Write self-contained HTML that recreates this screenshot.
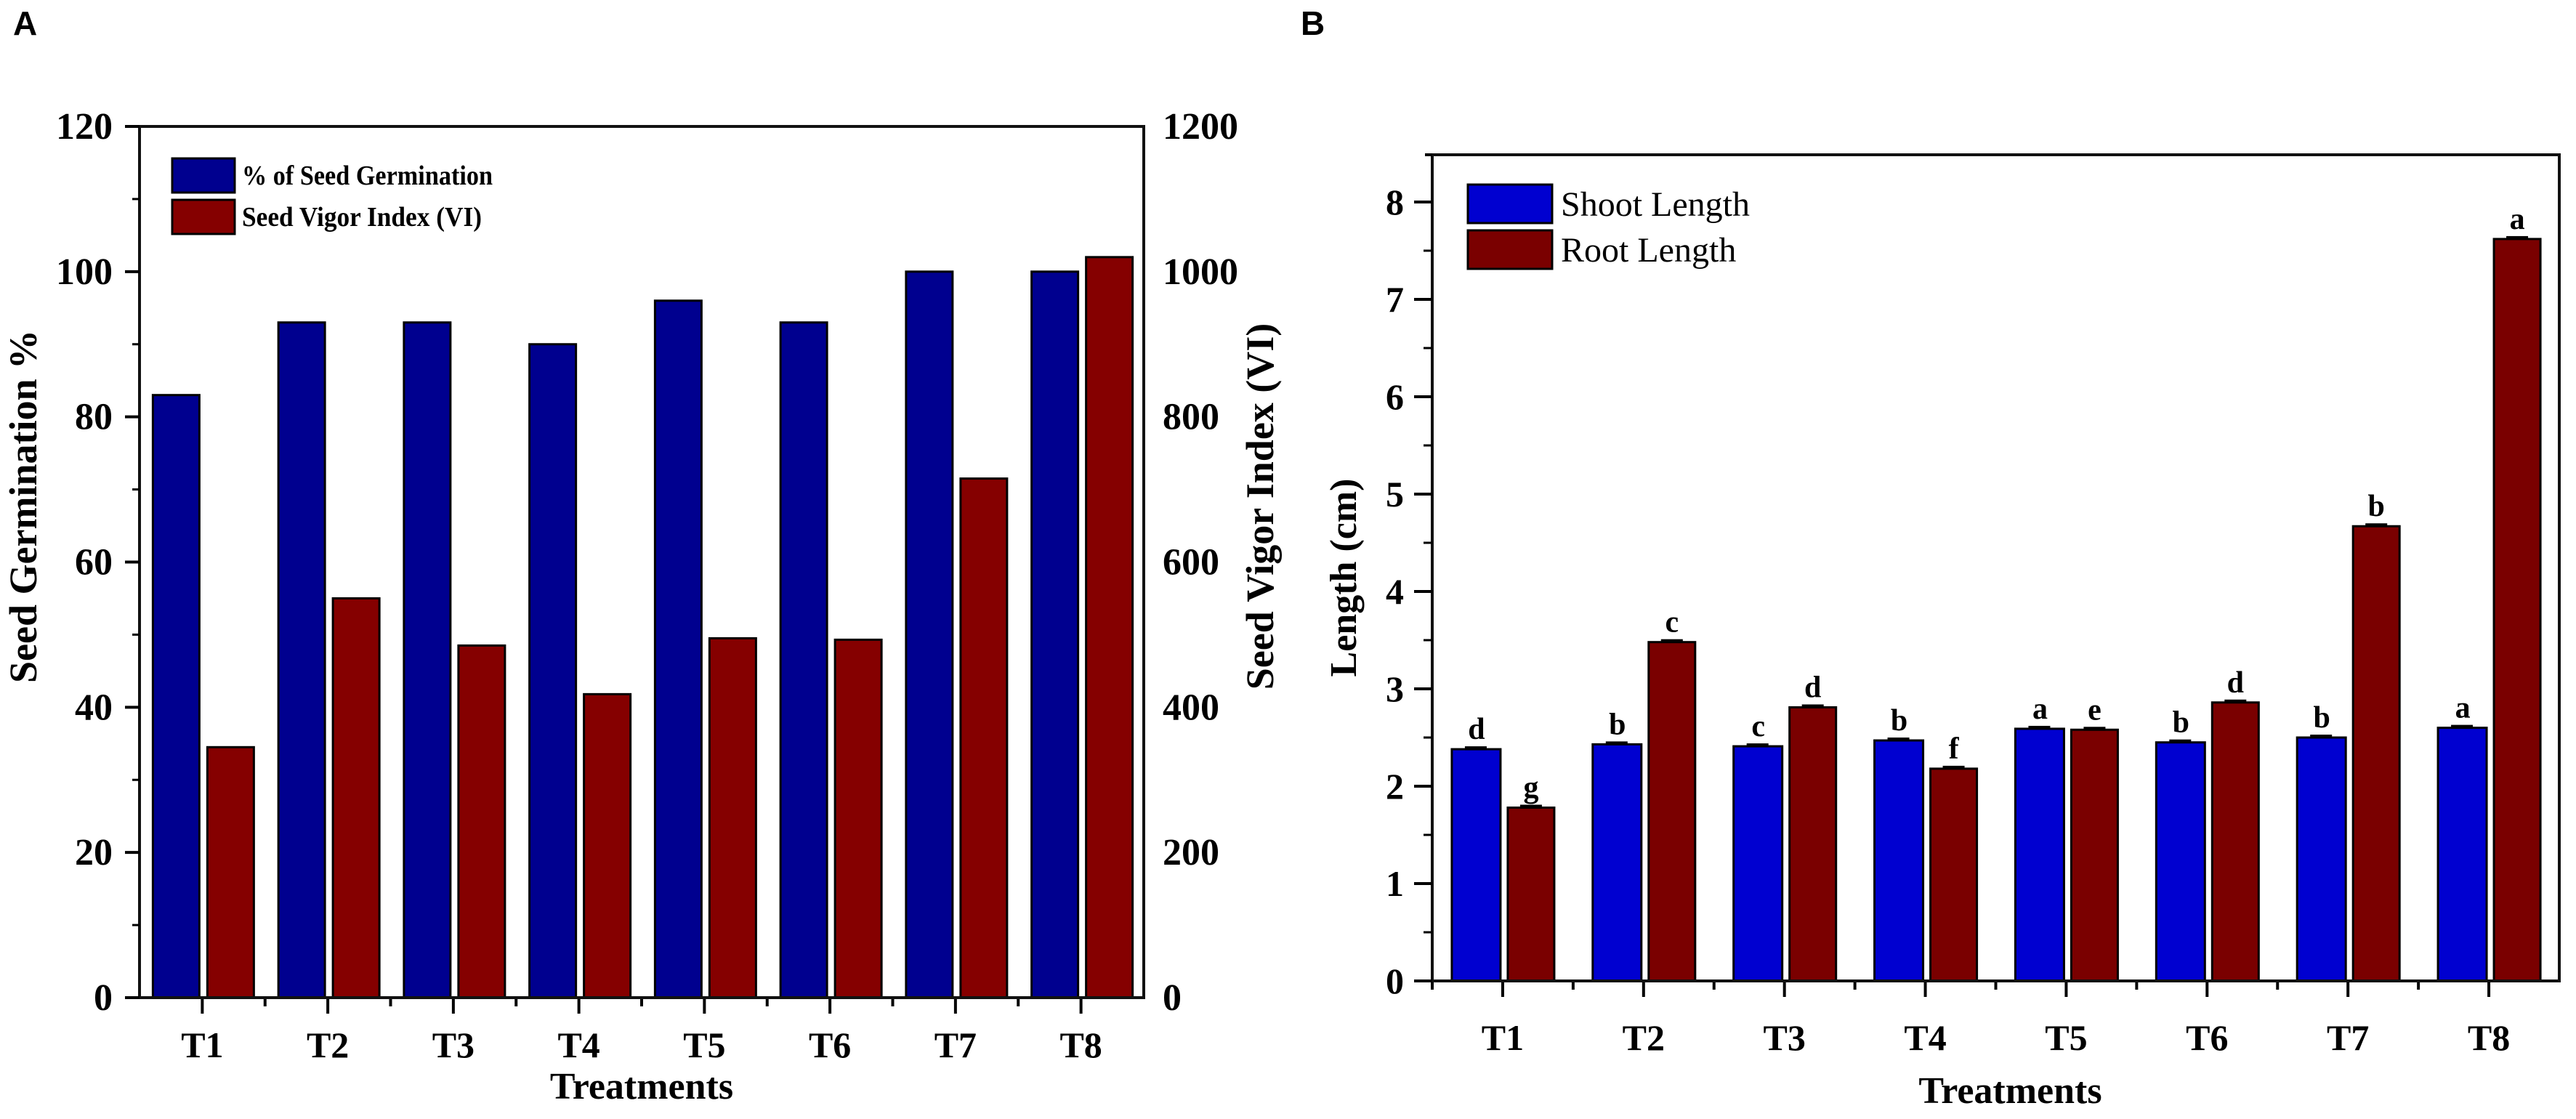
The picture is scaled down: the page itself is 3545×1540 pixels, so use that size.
<!DOCTYPE html>
<html><head><meta charset="utf-8"><style>
html,body{margin:0;padding:0;background:#fff}
svg text{font-family:"Liberation Serif",serif;font-weight:bold;fill:#000}
</style></head><body>
<svg id="chart" width="3545" height="1535" viewBox="0 0 3545 1535" xmlns="http://www.w3.org/2000/svg">
<text x="18" y="48" style="font-family:'Liberation Sans',sans-serif;font-size:46px">A</text>
<text x="1790" y="48" style="font-family:'Liberation Sans',sans-serif;font-size:46px">B</text>
<g id="pa"></g>
<g id="pb"></g>
</svg>
<script>
const categories = ["T1","T2","T3","T4","T5","T6","T7","T8"];
const germination = [83,93,93,90,96,93,100,100];
const vigorIndex = [345,550,485,418,495,493,715,1020];
const leftTicksA = [0,20,40,60,80,100,120];
const rightTicksA = [0,200,400,600,800,1000,1200];
const shootLength = [2.38,2.43,2.41,2.47,2.59,2.45,2.50,2.60];
const rootLength = [1.78,3.48,2.81,2.18,2.58,2.86,4.67,7.62];
const shootLetters = ["d","b","c","b","a","b","b","a"];
const rootLetters = ["g","c","d","f","e","d","b","a"];
const ticksB = [0,1,2,3,4,5,6,7,8];

const NS="http://www.w3.org/2000/svg";
function mk(parent,tag,attrs,text){const e=document.createElementNS(NS,tag);for(const k in attrs)e.setAttribute(k,attrs[k]);if(text!==undefined)e.textContent=text;parent.appendChild(e);return e;}

// Panel A
(function(){
  const g=document.getElementById('pa');
  const L=192,R=1574,T=174,B=1373;
  const yL=v=>B-(v/120)*(B-T);
  const yR=v=>B-(v/1200)*(B-T);
  const step=(R-L)/categories.length;
  const xc=i=>L+step*(i+0.5);
  categories.forEach((c,i)=>{
    let r=mk(g,'rect',{x:xc(i)-68,y:yL(germination[i]),width:64,height:B-yL(germination[i]),fill:'#00008f',stroke:'#000',"stroke-width":3});
    
    
    let r2=mk(g,'rect',{x:xc(i)+7,y:yR(vigorIndex[i]),width:64,height:B-yR(vigorIndex[i]),fill:'#850000',stroke:'#000',"stroke-width":3});
    
    
    mk(g,'line',{x1:xc(i),x2:xc(i),y1:B,y2:B+22,stroke:'#000',"stroke-width":4});
    if(i>0) mk(g,'line',{x1:xc(i)-step/2,x2:xc(i)-step/2,y1:B,y2:B+12,stroke:'#000',"stroke-width":4});
    let t=mk(g,'text',{x:xc(i),y:1455,"text-anchor":"middle","font-size":50},c);
    
    
  });
  mk(g,'rect',{x:L,y:T,width:R-L,height:B-T,fill:'none',stroke:'#111',"stroke-width":4});
  mk(g,'line',{x1:L-20,x2:L,y1:T,y2:T,stroke:'#111',"stroke-width":4});
  leftTicksA.forEach((v,i)=>{
    mk(g,'line',{x1:L-20,x2:L,y1:yL(v),y2:yL(v),stroke:'#000',"stroke-width":4});
    if(i<leftTicksA.length-1) mk(g,'line',{x1:L-10,x2:L,y1:yL(v+10),y2:yL(v+10),stroke:'#000',"stroke-width":3});
    let t=mk(g,'text',{x:155,y:yL(v)+17,"text-anchor":"end","font-size":52},String(v));
    
    
  });
  rightTicksA.forEach(v=>{
    let t=mk(g,'text',{x:1600,y:yR(v)+17,"font-size":52},String(v));
    
    
  });
  let yt=mk(g,'text',{x:0,y:0,transform:'translate(50,697) rotate(-90)',"text-anchor":"middle","font-size":54},'Seed Germination %');
  
  let yt2=mk(g,'text',{x:0,y:0,transform:'translate(1752,697) rotate(-90)',"text-anchor":"middle","font-size":54},'Seed Vigor Index (VI)');
  
  let xt=mk(g,'text',{x:(L+R)/2,y:1512,"text-anchor":"middle","font-size":52},'Treatments');
  
  let lg=mk(g,'g',{});
  mk(lg,'rect',{x:237,y:218,width:86,height:47,fill:'#00008f',stroke:'#000',"stroke-width":3});
  mk(lg,'rect',{x:237,y:275,width:86,height:47,fill:'#850000',stroke:'#000',"stroke-width":3});
  mk(lg,'text',{x:333,y:254,"font-size":38,textLength:345,lengthAdjust:"spacingAndGlyphs"},'% of Seed Germination');
  mk(lg,'text',{x:333,y:311,"font-size":38,textLength:330,lengthAdjust:"spacingAndGlyphs"},'Seed Vigor Index (VI)');
})();

// Panel B
(function(){
  const g=document.getElementById('pb');
  const L=1971,R=3522,T=213,B=1350;
  const y=v=>B-v*134;
  const step=(R-L)/categories.length;
  const xc=i=>L+step*(i+0.5);
  categories.forEach((c,i)=>{
    let r=mk(g,'rect',{x:xc(i)-70,y:y(shootLength[i]),width:67,height:B-y(shootLength[i]),fill:'#0000d0',stroke:'#000',"stroke-width":3});
    
    
    let r2=mk(g,'rect',{x:xc(i)+7,y:y(rootLength[i]),width:64,height:B-y(rootLength[i]),fill:'#7a0000',stroke:'#000',"stroke-width":3});
    
    
    mk(g,'rect',{x:xc(i)-52,y:y(shootLength[i])-4,width:30,height:5,fill:'#000'});
    mk(g,'rect',{x:xc(i)+24,y:y(rootLength[i])-4,width:30,height:5,fill:'#000'});
    let l1=mk(g,'text',{x:xc(i)-36,y:y(shootLength[i])-14,"text-anchor":"middle","font-size":42},shootLetters[i]);
    
    let l2=mk(g,'text',{x:xc(i)+39,y:y(rootLength[i])-14,"text-anchor":"middle","font-size":42},rootLetters[i]);
    
    mk(g,'line',{x1:xc(i),x2:xc(i),y1:B,y2:B+22,stroke:'#000',"stroke-width":4});
    mk(g,'line',{x1:xc(i)-step/2,x2:xc(i)-step/2,y1:B,y2:B+12,stroke:'#000',"stroke-width":4});
    let t=mk(g,'text',{x:xc(i),y:1445,"text-anchor":"middle","font-size":50},c);
    
    
  });
  mk(g,'rect',{x:L,y:T,width:R-L,height:B-T,fill:'none',stroke:'#111',"stroke-width":4});
  mk(g,'line',{x1:L-25,x2:L,y1:B,y2:B,stroke:'#000',"stroke-width":4});
  mk(g,'line',{x1:L-10,x2:L,y1:T,y2:T,stroke:'#000',"stroke-width":4});
  ticksB.forEach((v,i)=>{
    mk(g,'line',{x1:L-25,x2:L,y1:y(v),y2:y(v),stroke:'#000',"stroke-width":4});
    if(i<ticksB.length-1) mk(g,'line',{x1:L-12,x2:L,y1:y(v+0.5),y2:y(v+0.5),stroke:'#000',"stroke-width":3});
    let t=mk(g,'text',{x:1932,y:y(v)+17,"text-anchor":"end","font-size":50},String(v));
    
    
  });
  let yt=mk(g,'text',{x:0,y:0,transform:'translate(1866,795) rotate(-90)',"text-anchor":"middle","font-size":52},'Length (cm)');
  
  let xt=mk(g,'text',{x:(L+R)/2+20,y:1518,"text-anchor":"middle","font-size":52},'Treatments');
  
  let lg=mk(g,'g',{});
  mk(lg,'rect',{x:2020,y:254,width:116,height:53,fill:'#0000d0',stroke:'#000',"stroke-width":3});
  mk(lg,'rect',{x:2020,y:317,width:116,height:53,fill:'#7a0000',stroke:'#000',"stroke-width":3});
  mk(lg,'text',{x:2148,y:297,"font-size":48,style:"font-weight:normal"},'Shoot Length');
  mk(lg,'text',{x:2148,y:360,"font-size":48,style:"font-weight:normal"},'Root Length');
})();
</script>
</body></html>
